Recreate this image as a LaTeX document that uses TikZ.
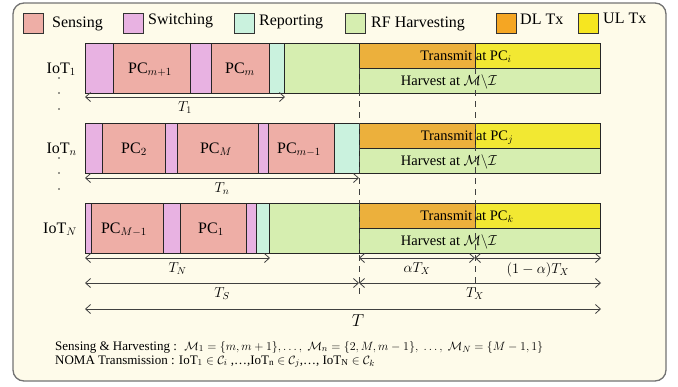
\documentclass[tikz,border=0pt]{standalone}
\usepackage{fontspec}
\setmainfont{Liberation Serif}
\usetikzlibrary{arrows.meta}
\definecolor{bgcol}{RGB}{254,251,234}
\definecolor{senscol}{RGB}{238,174,166}
\definecolor{swcol}{RGB}{232,178,226}
\definecolor{repcol}{RGB}{202,242,222}
\definecolor{rfcol}{RGB}{214,238,176}
\definecolor{dlcol}{RGB}{245,166,35}
\definecolor{ulcol}{RGB}{246,230,32}
\definecolor{dlbox}{RGB}{236,176,60}
\definecolor{ulbox}{RGB}{242,232,50}
\begin{document}
\begin{tikzpicture}[x=1pt,y=-1pt,
  seg/.style={draw=black!85, line width=0.9pt},
  legbox/.style={draw=black!80, line width=0.8pt},
  legtxt/.style={font=\fontsize{16}{18}\selectfont, inner sep=0pt, anchor=base west},
  rowlbl/.style={font=\fontsize{16}{18}\selectfont, inner sep=0pt, anchor=base east},
  pclbl/.style={font=\fontsize{16}{18}\selectfont, inner sep=0pt, anchor=base},
  txlbl/.style={font=\fontsize{14.5}{16}\selectfont, inner sep=0pt, anchor=base},
  dimlbl/.style={font=\fontsize{14}{16}\selectfont, inner sep=0pt},
  dim/.style={{Straight Barb[length=5pt,width=9pt]}-{Straight Barb[length=5pt,width=9pt]}, line width=0.8pt, draw=black!75},
  dashln/.style={dash pattern=on 6pt off 5pt, line width=0.8pt, draw=black!75},
  dotn/.style={circle, fill=black!80, inner sep=0pt, minimum size=1.6pt},
  note/.style={font=\fontsize{13}{12}\selectfont, inner sep=0pt, anchor=base west}
]
\useasboundingbox (0,0) rectangle (678,386);
\draw[rounded corners=11pt, draw=black!55, line width=1.3pt, fill=bgcol] (13,3) rectangle (666,381);

% legend
\foreach \x/\c in {23/senscol,123/swcol,234/repcol,345/rfcol,496/dlcol,578/ulcol}
  \draw[legbox, fill=\c] (\x,13) rectangle ++(20,20);
\node[legtxt] (lsens) at (52,27) {Sensing};
\node[legtxt] (lsw) at (148,24) {Switching};
\node[legtxt] (lrep) at (259,25) {Reporting};
\node[legtxt] (lrf) at (371,27) {RF Harvesting};
\node[legtxt] (ldl) at (520,24) {DL Tx};
\node[legtxt] (lul) at (603,23) {UL Tx};

% row 1
\draw[seg,fill=swcol] (85,43) rectangle (113,93);
\draw[seg,fill=senscol] (113,43) rectangle (190,93);
\draw[seg,fill=swcol] (190,43) rectangle (211,93);
\draw[seg,fill=senscol] (211,43) rectangle (269,93);
\draw[seg,fill=repcol] (269,43) rectangle (284,93);
\draw[seg,fill=rfcol] (284,43) rectangle (359,93);
\draw[seg,fill=dlbox] (359,43) rectangle (475,68);
\draw[seg,fill=ulbox] (475,43) rectangle (600,68);
\draw[seg,fill=rfcol] (359,68) rectangle (600,93);
% row 2
\draw[seg,fill=swcol] (85,123) rectangle (102,173);
\draw[seg,fill=senscol] (102,123) rectangle (165,173);
\draw[seg,fill=swcol] (165,123) rectangle (177,173);
\draw[seg,fill=senscol] (177,123) rectangle (258,173);
\draw[seg,fill=swcol] (258,123) rectangle (268,173);
\draw[seg,fill=senscol] (268,123) rectangle (334,173);
\draw[seg,fill=repcol] (334,123) rectangle (359,173);
\draw[seg,fill=dlbox] (359,123) rectangle (475,148);
\draw[seg,fill=ulbox] (475,123) rectangle (600,148);
\draw[seg,fill=rfcol] (359,148) rectangle (600,173);
% row 3
\draw[seg,fill=swcol] (85,203) rectangle (91,253);
\draw[seg,fill=senscol] (91,203) rectangle (163,253);
\draw[seg,fill=swcol] (163,203) rectangle (180,253);
\draw[seg,fill=senscol] (180,203) rectangle (246,253);
\draw[seg,fill=swcol] (246,203) rectangle (256,253);
\draw[seg,fill=repcol] (256,203) rectangle (269,253);
\draw[seg,fill=rfcol] (269,203) rectangle (359,253);
\draw[seg,fill=dlbox] (359,203) rectangle (475,228);
\draw[seg,fill=ulbox] (475,203) rectangle (600,228);
\draw[seg,fill=rfcol] (359,228) rectangle (600,253);

% row labels and dots
\node[rowlbl] (iot1) at (76,73) {IoT$_1$};
\node[rowlbl] (iotn) at (77,153) {IoT$_n$};
\node[rowlbl] (iotN) at (77,233) {IoT$_N$};
\node[dotn] (d1) at (59,78) {};
\node[dotn] (d2) at (59,93) {};
\node[dotn] (d3) at (59,109) {};
\node[dotn] (d4) at (59,158) {};
\node[dotn] (d5) at (59,173) {};
\node[dotn] (d6) at (59,189) {};

% PC labels
\node[pclbl] (pc1a) at (150,73) {PC$_{m+1}$};
\node[pclbl] (pc1b) at (240,73) {PC$_m$};
\node[pclbl] (pc2a) at (134,153) {PC$_2$};
\node[pclbl] (pc2b) at (216,153) {PC$_M$};
\node[pclbl] (pc2c) at (299,153) {PC$_{m-1}$};
\node[pclbl] (pc3a) at (124,233) {PC$_{M-1}$};
\node[pclbl] (pc3b) at (211,233) {PC$_1$};

% transmit / harvest labels
\node[txlbl] (tx1) at (466,60) {Transmit at PC$_i$};
\node[txlbl] (hv1) at (449,85) {Harvest at $\mathcal{M}\backslash\mathcal{I}$};
\node[txlbl] (tx2) at (467,140) {Transmit at PC$_j$};
\node[txlbl] (hv2) at (449,165) {Harvest at $\mathcal{M}\backslash\mathcal{I}$};
\node[txlbl] (tx3) at (467,220) {Transmit at PC$_k$};
\node[txlbl] (hv3) at (449,245) {Harvest at $\mathcal{M}\backslash\mathcal{I}$};

% dashed guides
\coordinate (ga1) at (359,68); \coordinate (ga2) at (359,294);
\coordinate (gb1) at (475,68); \coordinate (gb2) at (475,292);
\draw[dashln] (ga1) -- (ga2);
\draw[dashln] (gb1) -- (gb2);

% dimension arrows
\coordinate (a1l) at (85,97);  \coordinate (a1r) at (285,97);
\coordinate (anl) at (85,178); \coordinate (anr) at (359,178);
\coordinate (aNl) at (85,258); \coordinate (aNr) at (270,258);
\coordinate (axl) at (359,258); \coordinate (axm) at (475,258); \coordinate (axr) at (601,258);
\coordinate (asl) at (85,283); \coordinate (asr) at (359,283); \coordinate (atxr) at (601,283);
\coordinate (atl) at (85,309); \coordinate (atr) at (601,309);
\draw[dim] (a1l) -- (a1r) node[dimlbl, midway, below=4pt] (lt1) {$T_1$};
\draw[dim] (anl) -- (anr) node[dimlbl, midway, below=4pt] (ltn) {$T_n$};
\draw[dim] (aNl) -- (aNr) node[dimlbl, midway, below=4pt] (ltN) {$T_N$};
\draw[dim] (axl) -- (axm) node[dimlbl, midway, below=4pt] (lax) {$\alpha T_X$};
\draw[dim] (axm) -- (axr) node[dimlbl, midway, below=4pt] (lbx) {$(1-\alpha)T_X$};
\draw[dim] (asl) -- (asr) node[dimlbl, midway, below=4pt] (lts) {$T_S$};
\draw[dim] (asr) -- (atxr);
\node[dimlbl, anchor=north] (ltx) at (475,287) {$T_X$};
\draw[dim] (atl) -- (atr);
\node[font=\fontsize{17}{18}\selectfont, inner sep=0pt, anchor=north] (lt) at (358,314) {$T$};

% notes
\node[note] (n1) at (55,350) {Sensing \& Harvesting : \ $\mathcal{M}_1=\{m,m+1\},\ldots,\ \mathcal{M}_n=\{2,M,m-1\},\ \ldots,\ \mathcal{M}_N=\{M-1,1\}$};
\node[note] (n2) at (55,364) {NOMA Transmission : IoT$_1\in\mathcal{C}_i$ ,\ldots,IoT$_\mathrm{n}\in\mathcal{C}_j$,\ldots,\ IoT$_\mathrm{N}\in\mathcal{C}_k$};
\end{tikzpicture}
\end{document}
